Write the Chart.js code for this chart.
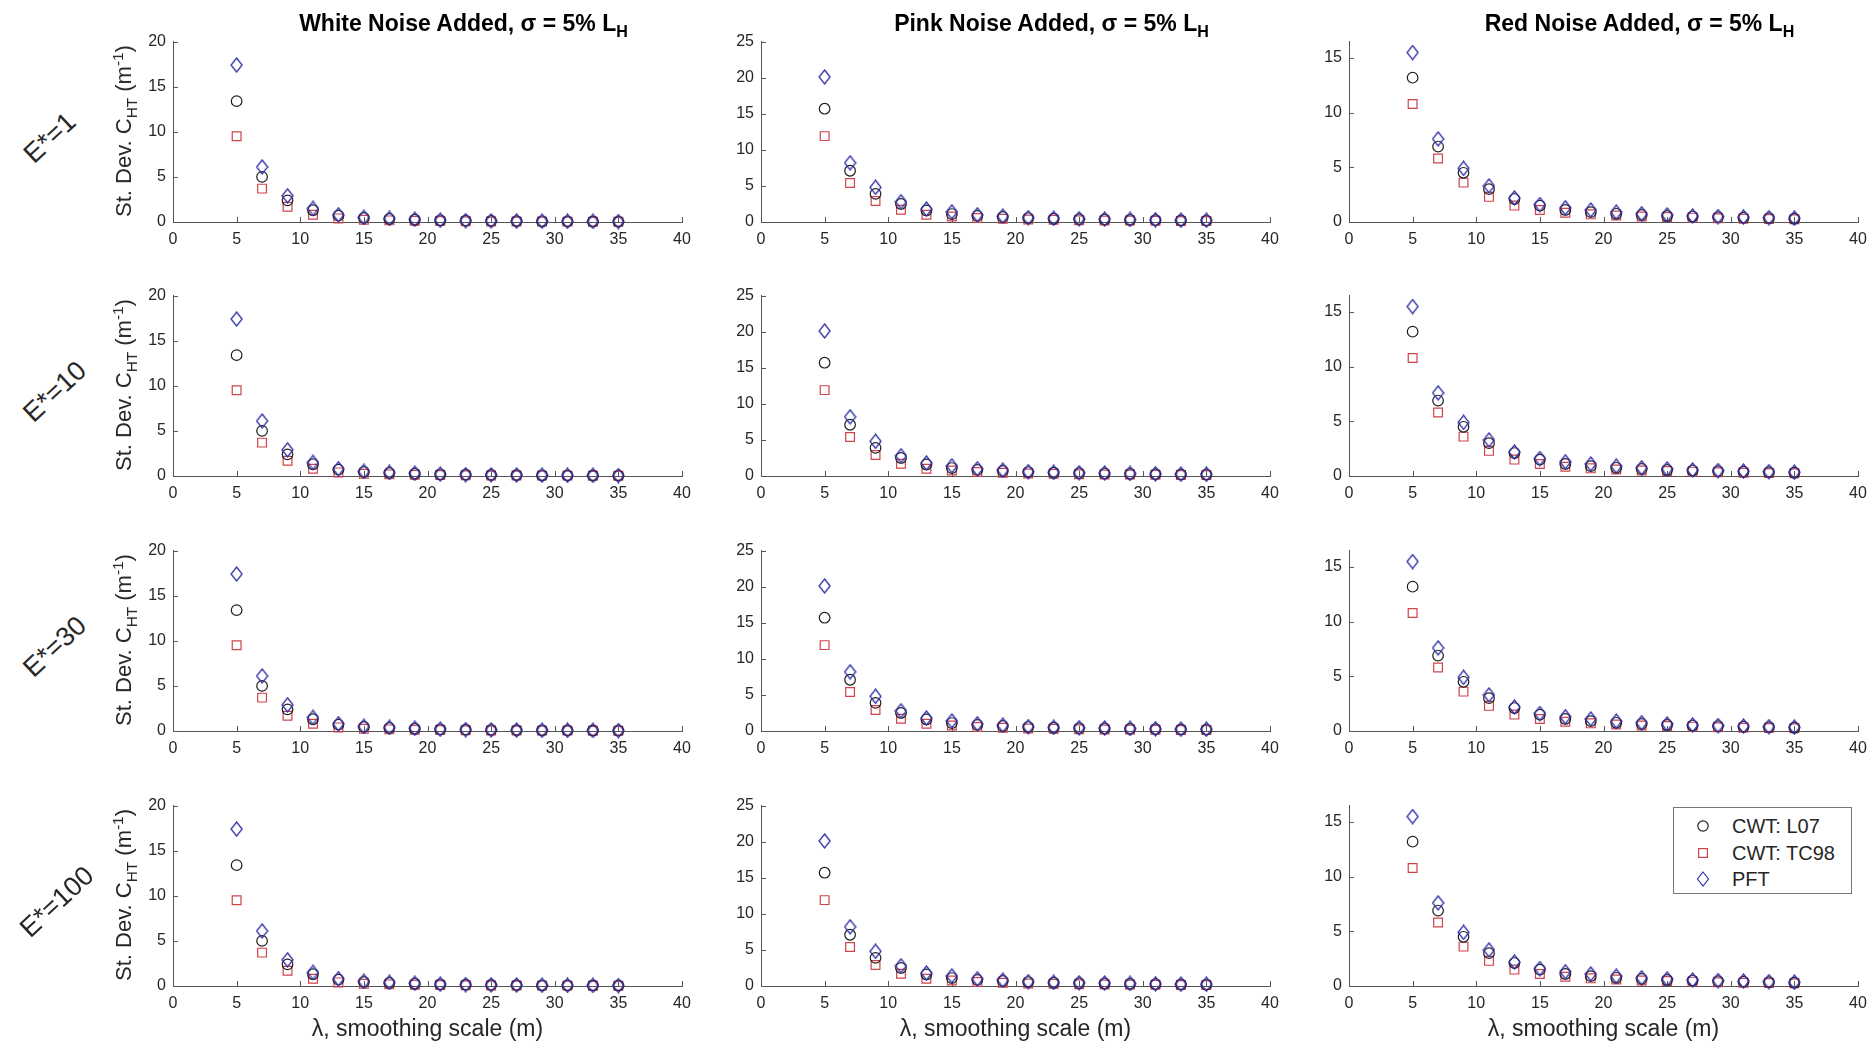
<!DOCTYPE html>
<html>
<head>
<meta charset="utf-8">
<title>Smoothing scale vs. curvature spread</title>
<script src="https://cdn.jsdelivr.net/npm/chart.js@4.4.0/dist/chart.umd.min.js"></script>
<style>
    body {
        margin: 0;
        width: 1871px;
        height: 1044px;
        position: relative;
        overflow: hidden;
        background: #fff;
        font-family: Arial, "Liberation Sans", sans-serif;
        color: #262626;
    }
    canvas.panel { position: absolute; }
    .label { position: absolute; white-space: nowrap; line-height: 1; }
    .label sub, .label sup { font-size: 0.7em; position: relative; vertical-align: baseline; }
    .label sub { top: 0.38em; }
    .label sup { top: -0.55em; }
    .colTitle { font-size: 23px; font-weight: bold; text-align: center; color: #000; }
    .yTitle { font-size: 22px; transform: translate(-50%, -50%) rotate(-90deg); }
    .xTitle { font-size: 23px; transform: translate(-50%, -50%); }
    .rowLabel { font-size: 27px; transform: translate(-50%, -50%) rotate(-43deg); }
    #legend {
        position: absolute;
        left: 1673px;
        top: 807px;
        width: 177px;
        height: 85px;
        border: 1px solid #777;
        background: #fff;
        font-size: 20px;
    }
    #legend .item { position: absolute; left: 0; width: 177px; height: 24px; }
    #legend svg { position: absolute; left: 22px; top: 4px; }
    #legend span { position: absolute; left: 58px; top: 2px; line-height: 1; white-space: nowrap; }
</style>
</head>
<body>
<div id="legend"></div>
<script>
// smoothing scale lambda (m)
const lambda = [5, 7, 9, 11, 13, 15, 17, 19, 21, 23, 25, 27, 29, 31, 33, 35];

// st. dev. of C_HT (1/m) for each noise type and method
const whiteL07  = [13.4, 5.0, 2.4, 1.3, 0.70, 0.45, 0.33, 0.25, 0.19, 0.15, 0.12, 0.10, 0.08, 0.07, 0.06, 0.05];
const whiteTC98 = [9.5, 3.7, 1.7, 0.80, 0.40, 0.25, 0.18, 0.13, 0.10, 0.08, 0.06, 0.05, 0.04, 0.04, 0.03, 0.03];
const whitePFT  = [17.4, 6.1, 2.9, 1.5, 0.80, 0.50, 0.40, 0.30, 0.20, 0.15, 0.12, 0.10, 0.08, 0.07, 0.06, 0.05];

const pinkL07  = [15.7, 7.1, 3.9, 2.5, 1.6, 1.1, 0.85, 0.70, 0.55, 0.45, 0.40, 0.35, 0.30, 0.25, 0.22, 0.20];
const pinkTC98 = [11.9, 5.4, 2.9, 1.7, 1.0, 0.75, 0.55, 0.45, 0.35, 0.30, 0.25, 0.22, 0.20, 0.17, 0.15, 0.13];
const pinkPFT  = [20.1, 8.2, 4.8, 2.8, 1.8, 1.4, 1.0, 0.80, 0.60, 0.50, 0.45, 0.40, 0.35, 0.30, 0.25, 0.25];

const redL07  = [13.2, 6.9, 4.5, 3.0, 2.1, 1.5, 1.1, 0.90, 0.75, 0.65, 0.55, 0.50, 0.45, 0.40, 0.35, 0.30];
const redTC98 = [10.8, 5.8, 3.6, 2.3, 1.5, 1.1, 0.85, 0.70, 0.60, 0.50, 0.45, 0.40, 0.35, 0.30, 0.27, 0.25];
const redPFT  = [15.5, 7.6, 4.9, 3.3, 2.2, 1.6, 1.3, 1.1, 0.90, 0.75, 0.65, 0.55, 0.50, 0.45, 0.40, 0.35];

const noiseNames = ['White', 'Pink', 'Red'];
const noiseData = [
    [whiteL07, whiteTC98, whitePFT],
    [pinkL07, pinkTC98, pinkPFT],
    [redL07, redTC98, redPFT]
];
const yMax = [20, 25, 16.5];
const rowLabels = ['E*=1', 'E*=10', 'E*=30', 'E*=100'];
const methodNames = ['CWT: L07', 'CWT: TC98', 'PFT'];

// panel geometry (plot area of each axes)
const colLeft = [173, 761, 1349];
const rowTop = [39, 293, 548, 803];
const plotW = 509;
const plotH = 183;
const PAD_L = 50, PAD_R = 18, PAD_T = 14, PAD_B = 34;

const AXIS_COLOR = '#555555';
const TEXT_COLOR = '#262626';
const BLACK = '#1e1e1e';
const RED = '#d0434a';
const BLUE = '#3232a8';

// MATLAB-style diamond, a bit taller than wide
function makeDiamond(color, w, h) {
    const c = document.createElement('canvas');
    c.width = w + 2;
    c.height = h + 2;
    const g = c.getContext('2d');
    g.strokeStyle = color;
    g.lineWidth = 1.3;
    g.beginPath();
    g.moveTo(c.width / 2, 1);
    g.lineTo(c.width - 1, c.height / 2);
    g.lineTo(c.width / 2, c.height - 1);
    g.lineTo(1, c.height / 2);
    g.closePath();
    g.stroke();
    return c;
}
const diamond = makeDiamond(BLUE, 11, 14);

// ticks pointing into the plot area, like MATLAB axes
const inwardTicks = {
    id: 'inwardTicks',
    beforeDatasetsDraw(chart) {
        const { ctx, chartArea } = chart;
        const x = chart.scales.x, y = chart.scales.y;
        ctx.save();
        ctx.strokeStyle = AXIS_COLOR;
        ctx.lineWidth = 1;
        ctx.beginPath();
        x.ticks.forEach(t => {
            const px = Math.round(x.getPixelForValue(t.value)) + 0.5;
            ctx.moveTo(px, chartArea.bottom);
            ctx.lineTo(px, chartArea.bottom - 5);
        });
        y.ticks.forEach(t => {
            const py = Math.round(y.getPixelForValue(t.value)) + 0.5;
            ctx.moveTo(chartArea.left, py);
            ctx.lineTo(chartArea.left + 5, py);
        });
        ctx.stroke();
        ctx.restore();
    }
};

function points(values) {
    return values.map((v, i) => ({ x: lambda[i], y: v }));
}

function addLabel(cls, html, left, top, width) {
    const d = document.createElement('div');
    d.className = 'label ' + cls;
    d.innerHTML = html;
    d.style.left = left + 'px';
    d.style.top = top + 'px';
    if (width) d.style.width = width + 'px';
    document.body.appendChild(d);
}

const tickFont = { family: 'Arial, "Liberation Sans", sans-serif', size: 16 };

for (let r = 0; r < rowLabels.length; r++) {
    for (let c = 0; c < noiseNames.length; c++) {
        const canvas = document.createElement('canvas');
        canvas.className = 'panel';
        canvas.width = plotW + PAD_L + PAD_R;
        canvas.height = plotH + PAD_T + PAD_B;
        canvas.style.left = (colLeft[c] - PAD_L) + 'px';
        canvas.style.top = (rowTop[r] - PAD_T) + 'px';
        document.body.appendChild(canvas);

        const [l07, tc98, pft] = noiseData[c];

        new Chart(canvas, {
            type: 'scatter',
            data: {
                datasets: [
                    {
                        label: methodNames[0],
                        data: points(l07),
                        pointStyle: 'circle',
                        pointRadius: 5.3,
                        borderColor: BLACK,
                        backgroundColor: 'rgba(0,0,0,0)',
                        borderWidth: 1.2,
                        clip: false,
                        order: 2
                    },
                    {
                        label: methodNames[1],
                        data: points(tc98),
                        pointStyle: 'rect',
                        pointRadius: 6.2,
                        borderColor: RED,
                        backgroundColor: 'rgba(0,0,0,0)',
                        borderWidth: 1.2,
                        clip: false,
                        order: 3
                    },
                    {
                        label: methodNames[2],
                        data: points(pft),
                        pointStyle: diamond,
                        borderColor: BLUE,
                        backgroundColor: 'rgba(0,0,0,0)',
                        clip: false,
                        order: 1
                    }
                ]
            },
            options: {
                responsive: false,
                animation: false,
                events: [],
                layout: { padding: { top: PAD_T, right: PAD_R, left: 0, bottom: 0 } },
                plugins: {
                    legend: { display: false },
                    tooltip: { enabled: false }
                },
                scales: {
                    x: {
                        type: 'linear',
                        min: 0,
                        max: 40,
                        afterFit(scale) { scale.height = PAD_B; },
                        ticks: { stepSize: 5, font: tickFont, color: TEXT_COLOR, padding: 8, maxRotation: 0 },
                        grid: { drawOnChartArea: false, drawTicks: false },
                        border: { color: AXIS_COLOR, width: 1 }
                    },
                    y: {
                        min: 0,
                        max: yMax[c],
                        afterFit(scale) { scale.width = PAD_L; },
                        ticks: { stepSize: 5, includeBounds: false, font: tickFont, color: TEXT_COLOR, padding: 7 },
                        grid: { drawOnChartArea: false, drawTicks: false },
                        border: { color: AXIS_COLOR, width: 1 }
                    }
                }
            },
            plugins: [inwardTicks]
        });
    }

    const midY = rowTop[r] + plotH / 2;
    addLabel('yTitle', 'St. Dev. C<sub>HT</sub> (m<sup>-1</sup>)', 124, midY);
    addLabel('rowLabel', rowLabels[r], [50, 55, 55, 57][r], midY + 7);
}

noiseNames.forEach((name, c) => {
    addLabel('colTitle', name + ' Noise Added, \u03c3 = 5% L<sub>H</sub>', colLeft[c] + 36, 12, plotW);
    addLabel('xTitle', '\u03bb, smoothing scale (m)', colLeft[c] + plotW / 2, 1028);
});

// legend entries with the same marker shapes
const legend = document.getElementById('legend');
const legendMarks = [
    '<circle cx="7" cy="8" r="5.2" fill="none" stroke="' + BLACK + '" stroke-width="1.2"/>',
    '<rect x="2.6" y="3.6" width="8.8" height="8.8" fill="none" stroke="' + RED + '" stroke-width="1.2"/>',
    '<path d="M7 1 L12.5 8 L7 15 L1.5 8 Z" fill="none" stroke="' + BLUE + '" stroke-width="1.2"/>'
];
methodNames.forEach((name, i) => {
    const item = document.createElement('div');
    item.className = 'item';
    item.style.top = (6 + i * 26.5) + 'px';
    item.innerHTML = '<svg width="14" height="16" viewBox="0 0 14 16">' + legendMarks[i] + '</svg><span>' + name + '</span>';
    legend.appendChild(item);
});
</script>
</body>
</html>
